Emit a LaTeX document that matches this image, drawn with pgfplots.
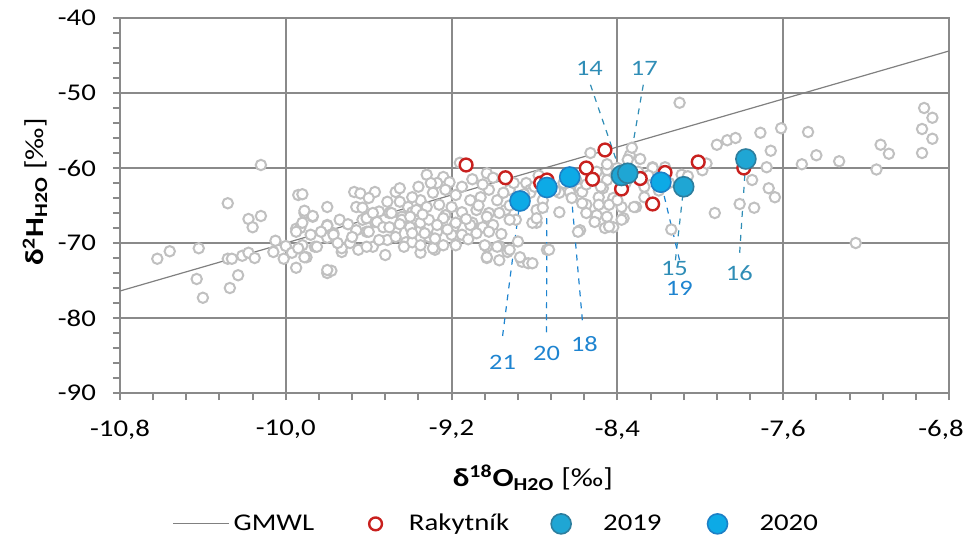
\documentclass[border=0pt]{standalone}
\usepackage{pgfplots}
\pgfplotsset{compat=1.18}
\usepackage{fontspec}
\setmainfont{Carlito}[FakeStretch=1.2]
\definecolor{gridgray}{HTML}{8A8A8A}
\definecolor{ptgray}{HTML}{C0C0C0}
\definecolor{rakred}{HTML}{C8201E}
\definecolor{fillA}{HTML}{1FA6D4}
\definecolor{drawA}{HTML}{2D7E9E}
\definecolor{fillB}{HTML}{0DAAE6}
\definecolor{drawB}{HTML}{1C80C6}
\definecolor{labA}{HTML}{2F8DB6}
\definecolor{labB}{HTML}{1E84D0}
\pgfplotstableread{
x y
-10.12 -59.6
-10.28 -64.7
-10.18 -66.8
-10.12 -66.4
-10.16 -67.9
-10.05 -69.7
-10.62 -72.1
-10.56 -71.1
-10.42 -70.7
-10.43 -74.8
-10.40 -77.3
-10.27 -76.0
-10.23 -74.3
-10.28 -72.1
-10.26 -72.1
-10.21 -71.7
-10.18 -71.3
-10.15 -72.0
-10.06 -71.2
-10.01 -72.1
-10.00 -70.4
-9.97 -71.3
-9.95 -73.3
-9.95 -68.1
-9.94 -63.6
-9.92 -70.3
-9.90 -71.9
-9.86 -70.5
-9.80 -74.0
-9.78 -73.7
-9.73 -71.2
-9.93 -68.0
-9.91 -66.0
-9.87 -66.5
-9.80 -67.6
-9.77 -68.7
-9.66 -65.2
-9.63 -66.9
-9.61 -68.5
-9.57 -67.2
-9.52 -71.6
-9.51 -69.6
-9.50 -66.0
-9.47 -68.3
-9.44 -66.5
-9.35 -71.3
-9.35 -68.3
-9.31 -69.2
-9.28 -70.9
-9.23 -66.3
-9.19 -67.9
-9.18 -70.2
-9.10 -67.3
-9.03 -70.5
-9.03 -72.0
-8.97 -70.4
-8.93 -71.2
-8.88 -69.8
-8.86 -72.5
-8.83 -72.7
-8.79 -67.3
-8.74 -70.9
-9.02 -66.0
-8.94 -65.6
-8.89 -66.9
-9.92 -63.5
-9.80 -65.2
-9.91 -65.7
-9.87 -66.4
-9.92 -67.3
-9.95 -68.5
-9.94 -70.7
-9.91 -71.9
-9.80 -73.6
-9.85 -70.5
-9.80 -69.3
-9.77 -68.9
-9.74 -66.9
-9.80 -67.7
-9.73 -70.7
-9.67 -63.2
-9.64 -63.4
-9.57 -63.2
-9.63 -65.3
-9.51 -64.5
-9.47 -63.2
-9.45 -62.7
-9.41 -65.2
-9.45 -64.5
-9.49 -66.0
-9.56 -67.2
-9.61 -66.7
-9.66 -68.3
-9.60 -68.5
-9.53 -67.9
-9.47 -69.2
-9.42 -69.9
-9.44 -66.9
-9.58 -70.5
-9.65 -70.9
-9.61 -70.5
-9.69 -70.0
-9.55 -69.6
-9.50 -67.9
-9.40 -67.9
-9.39 -69.9
-9.39 -65.9
-9.88 -68.9
-9.83 -68.5
-9.75 -70.0
-9.32 -60.9
-9.24 -61.2
-9.27 -62.0
-9.21 -61.9
-9.03 -60.7
-9.29 -63.3
-9.23 -62.9
-9.18 -63.6
-9.11 -64.3
-9.06 -63.9
-9.02 -62.9
-8.98 -64.3
-9.35 -64.3
-9.39 -63.9
-9.37 -65.6
-9.32 -65.2
-9.26 -64.9
-9.20 -65.2
-9.15 -65.9
-9.08 -65.6
-9.03 -66.5
-8.97 -66.0
-8.92 -66.9
-9.35 -67.3
-9.31 -66.9
-9.24 -66.7
-9.18 -67.3
-9.11 -67.6
-9.05 -67.9
-9.00 -67.6
-9.39 -68.7
-9.33 -68.7
-9.27 -68.5
-9.20 -68.9
-9.15 -68.9
-9.08 -68.7
-9.02 -68.5
-9.35 -70.3
-9.29 -70.7
-9.24 -70.3
-9.18 -70.3
-9.04 -70.3
-8.98 -70.5
-8.92 -70.9
-9.03 -71.9
-8.87 -71.9
-8.97 -72.3
-8.84 -62.0
-8.82 -62.9
-8.92 -62.9
-9.16 -59.3
-8.53 -58.0
-8.34 -58.3
-8.35 -58.9
-8.45 -60.3
-8.45 -61.6
-8.47 -62.7
-8.58 -62.7
-8.57 -63.2
-8.63 -63.2
-8.68 -63.3
-8.49 -63.9
-8.42 -64.0
-8.55 -64.9
-8.49 -64.9
-8.44 -64.9
-8.38 -65.2
-8.31 -65.2
-8.27 -63.9
-8.50 -66.3
-8.45 -66.5
-8.37 -66.7
-8.51 -67.2
-8.46 -68.0
-8.42 -67.9
-8.58 -68.3
-8.73 -70.9
-8.76 -64.3
-8.79 -65.6
-8.76 -65.3
-8.81 -67.3
-8.79 -66.7
-8.81 -72.7
-8.82 -63.3
-8.68 -65.9
-8.45 -59.5
-8.33 -57.3
-8.29 -58.8
-8.23 -59.9
-8.09 -60.9
-8.40 -64.3
-8.38 -66.9
-8.32 -65.2
-8.44 -67.8
-8.57 -64.7
-8.55 -66.0
-8.59 -68.5
-8.14 -68.2
-8.10 -51.3
-7.92 -56.9
-7.87 -56.3
-7.83 -56.0
-7.71 -55.3
-7.61 -54.7
-7.48 -55.2
-7.66 -57.7
-7.68 -59.9
-7.75 -61.6
-7.67 -62.7
-7.64 -63.9
-7.93 -66.0
-7.81 -64.8
-7.74 -65.3
-7.99 -60.3
-7.97 -59.4
-7.51 -59.5
-7.44 -58.3
-7.33 -59.1
-7.15 -60.2
-7.13 -56.9
-7.09 -58.1
-6.92 -52.0
-6.88 -53.3
-6.93 -54.8
-6.88 -56.1
-6.93 -58.0
-7.25 -70.0
-8.17 -59.9
-8.23 -60.0
-8.06 -61.1
-9.60 -64.0
-9.55 -65.8
-9.36 -62.5
-9.30 -62.0
-9.15 -62.5
-9.10 -61.5
-9.05 -62.2
-9.00 -61.3
-8.95 -63.3
-8.90 -62.0
-8.85 -63.5
-8.80 -62.5
-8.78 -61.0
-8.70 -63.0
-8.66 -62.0
-8.62 -64.0
-8.60 -61.5
-8.55 -62.2
-8.50 -60.5
-8.48 -62.5
-8.40 -60.0
-8.36 -62.0
-8.30 -60.5
-8.27 -62.5
-8.25 -61.0
-8.20 -63.0
-8.15 -62.0
-9.70 -67.5
-9.58 -66.0
-9.45 -67.5
-9.40 -66.5
-9.34 -66.2
-9.27 -67.6
-9.22 -68.2
-9.13 -66.8
-9.07 -65.0
-9.12 -69.5
-9.28 -69.4
-9.43 -70.5
-9.68 -69.2
-8.96 -68.8
-8.92 -65.0
-8.88 -64.2
}\graydata
\pgfplotstableread{
x y
-9.13 -59.6
-8.94 -61.3
-8.77 -62.0
-8.74 -61.6
-8.55 -60.0
-8.52 -61.5
-8.46 -57.6
-8.38 -62.8
-8.29 -61.4
-8.17 -60.6
-8.23 -64.8
-8.01 -59.2
-7.79 -60.0
}\reddata
\pgfplotstableread{
x y
-8.38 -61.0
-8.35 -60.7
-8.08 -62.5
-7.78 -58.8
}\dataA
\pgfplotstableread{
x y
-8.87 -64.4
-8.74 -62.6
-8.63 -61.2
-8.19 -61.9
}\dataB
\begin{document}
\begin{tikzpicture}
\begin{axis}[
  scale only axis,
  width=414.5pt, height=187.5pt,
  xmin=-10.8, xmax=-6.8, ymin=-90, ymax=-40,
  xtick={-10.8,-10.0,-9.2,-8.4,-7.6,-6.8},
  ytick={-90,-80,-70,-60,-50,-40},
  minor x tick num=4, minor y tick num=4,
  tick pos=left, tick align=outside,
  major tick length=3.5pt, minor tick length=3.5pt,
  grid=major,
  major grid style={draw=gridgray, line width=1pt},
  axis line style={draw=gridgray, line width=1pt},
  every tick/.style={draw=gridgray, line width=1pt},
  every minor tick/.style={draw=gridgray, line width=1pt},
  /pgf/number format/assume math mode=true,
  tick label style={font=\fontsize{12}{14}\selectfont, text=black},
  xticklabel={\ifnum\ticknum=5 \hspace*{-8pt}\fi\pgfmathprintnumber[fixed, fixed zerofill, precision=1, use comma]{\tick}},
  xticklabel style={yshift=-6.5pt},
  yticklabel style={xshift=-5pt, /pgf/number format/.cd, fixed, precision=0},
  xlabel={\textbf{δ\textsuperscript{18}O\textsubscript{H2O}} [‰]},
  ylabel={\textbf{δ\textsuperscript{2}H\textsubscript{H2O}} [‰]},
  xlabel style={at={(axis description cs:0.498,-0.226)}, anchor=center, font=\fontsize{13}{15}\selectfont},
  ylabel style={at={(axis description cs:-0.1025,0.536)}, anchor=center, font=\fontsize{13}{15}\selectfont},
  legend style={at={(axis description cs:0.455,-0.349)}, anchor=center, draw=none, fill=none,
    font=\fontsize{12}{14}\selectfont, legend columns=4,
    /tikz/every even column/.append style={column sep=17pt}},
  legend cell align=left,
  clip=false,
]
\addplot[draw=gray, line width=0.6pt, no markers,
  legend image code/.code={\draw[gray, line width=0.6pt] (0pt,0pt) -- (28pt,0pt);}]
  coordinates {(-10.8,-76.4) (-6.8,-44.4)};
\addlegendentry{GMWL\hspace*{8.5pt}}
\addplot[only marks, mark=*, mark size=2.6pt, mark options={draw=ptgray, fill=white, line width=1pt}, forget plot] table {\graydata};
\addplot[only marks, mark=*, mark size=3.2pt, mark options={draw=rakred, fill=white, line width=1.2pt}] table {\reddata};
\addlegendentry{\hspace*{11.5pt}Rakytník\hspace*{2pt}}
\addplot[only marks, mark=*, mark size=5pt, mark options={draw=drawA, fill=fillA, line width=0.8pt}] table {\dataA};
\addlegendentry{\hspace*{14pt}2019\hspace*{4pt}}
\addplot[only marks, mark=*, mark size=5pt, mark options={draw=drawB, fill=fillB, line width=0.8pt}] table {\dataB};
\addlegendentry{\hspace*{14pt}2020}
% leader lines
\addplot[labA, dashed, line width=0.6pt, forget plot] coordinates {(-8.530,-48.9) (-8.38,-61.0)};
\addplot[labA, dashed, line width=0.6pt, forget plot] coordinates {(-8.275,-48.9) (-8.35,-60.7)};
\addplot[labB, dashed, line width=0.6pt, forget plot] coordinates {(-8.954,-82.4) (-8.87,-64.4)};
\addplot[labB, dashed, line width=0.6pt, forget plot] coordinates {(-8.742,-81.9) (-8.74,-62.6)};
\addplot[labB, dashed, line width=0.6pt, forget plot] coordinates {(-8.569,-80.3) (-8.63,-61.2)};
\addplot[labA, dashed, line width=0.6pt, forget plot] coordinates {(-8.12,-72.3) (-8.08,-62.5)};
\addplot[labB, dashed, line width=0.6pt, forget plot] coordinates {(-8.10,-72.3) (-8.19,-61.9)};
\addplot[labA, dashed, line width=0.6pt, forget plot] coordinates {(-7.81,-71.3) (-7.78,-58.8)};
\begin{scope}[every node/.style={font=\fontsize{11}{13}\selectfont, inner sep=1pt}]
\node[text=labA] at (axis cs:-8.535,-46.67) {14};
\node[text=labA] at (axis cs:-8.27,-46.67) {17};
\node[text=labB] at (axis cs:-8.954,-85.87) {21};
\node[text=labB] at (axis cs:-8.742,-84.67) {20};
\node[text=labB] at (axis cs:-8.559,-83.47) {18};
\node[text=labA] at (axis cs:-8.125,-73.4) {15};
\node[text=labB] at (axis cs:-8.101,-76.0) {19};
\node[text=labA] at (axis cs:-7.812,-74.0) {16};
\end{scope}
\end{axis}
\pgfresetboundingbox
\path ([shift={(-60pt,-71.5pt)}]current axis.south west) ([shift={(425pt,196.5pt)}]current axis.south west);
\end{tikzpicture}
\end{document}
